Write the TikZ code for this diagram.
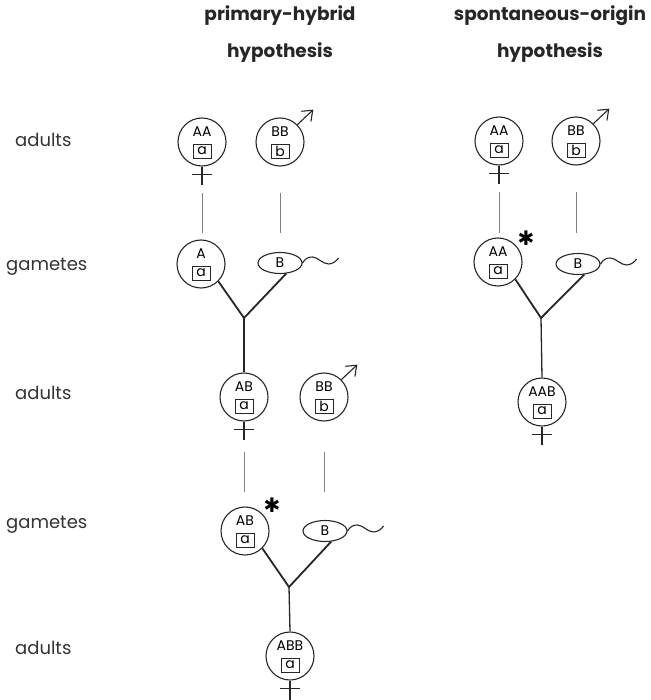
\documentclass[tikz,border=0pt]{standalone}
\usepackage{fontspec}
\setmainfont{Poppins}
\newfontfamily\symfont{DejaVu Sans}
\usetikzlibrary{shapes.geometric,arrows.meta,calc}
\begin{document}
\begin{tikzpicture}[x=1pt,y=-1pt,
  cell/.style={circle,draw=black!85,line width=1.1pt,minimum size=48pt,inner sep=0pt},
  sperm/.style={ellipse,draw=black!85,line width=1.1pt,minimum width=44pt,minimum height=21pt,inner sep=0pt,font=\fontsize{14}{14}\selectfont},
  geno/.style={inner sep=0pt,font=\fontsize{14}{14}\selectfont},
  chrom/.style={draw=black!85,line width=0.9pt,minimum width=18pt,minimum height=14pt,inner sep=0pt,font=\fontsize{14}{14}\selectfont},
  sym/.style={draw=black!85,line width=1.1pt},
  thin/.style={draw=black!50,line width=0.7pt},
  fuse/.style={draw=black!85,line width=1.8pt},
  rowlab/.style={anchor=west,inner sep=0pt,font=\fontsize{18}{18}\selectfont,text=black!80},
  title/.style={inner sep=0pt,font=\fontsize{18.5}{18.5}\selectfont\bfseries,text=black!85},
  star/.style={inner sep=0pt,font=\symfont\fontsize{20}{20}\selectfont},
  malearrow/.style={sym,-{Straight Barb[length=9pt,width=14pt,line width=1.1pt]}}
]
\useasboundingbox (0,0) rectangle (650,700);

% titles
\node[title] (t1a) at (280,16) {primary-hybrid};
\node[title] (t1b) at (280,53) {hypothesis};
\node[title] (t2a) at (550,16) {spontaneous-origin};
\node[title] (t2b) at (550,53) {hypothesis};

% row labels
\node[rowlab] (r1) at (15,140) {adults};
\node[rowlab] (r2) at (6,267) {gametes};
\node[rowlab] (r3) at (15,393) {adults};
\node[rowlab] (r4) at (6,525) {gametes};
\node[rowlab] (r5) at (15,648) {adults};

% ===== primary-hybrid column =====
% adults row 1
\node[cell] (pAA) at (202,142) {};
\node[geno] (pAAg) at (202,132) {AA};
\node[chrom] (pAAc) at (202,151) {a};
\draw[sym] (pAA.south) -- ++(0,18);
\draw[sym] ($(pAA.south)+(-10,8)$) -- ++(20,0);
\node[cell] (pBB) at (280,142) {};
\node[geno] (pBBg) at (280,132) {BB};
\node[chrom] (pBBc) at (280,151) {b};
\draw[malearrow] (pBB.45) -- ++(16,-15);

% gametes row 1
\node[cell] (pA) at (201,264) {};
\node[geno] (pAg) at (201,254) {A};
\node[chrom] (pAc) at (201,273) {a};
\node[sperm] (pB) at (280,263) {B};
\draw[sym] (pB.east) .. controls +(3,-5) and +(-4,0) .. ++(10,-6)
  .. controls +(5,0) and +(-6,0) .. ++(16,7)
  .. controls +(4,0) and +(-2,3) .. ++(10,-6);
\coordinate (pJ1) at (244,318);
\draw[thin] (202,193) coordinate (l1a) -- (202,233) coordinate (l1b);
\draw[thin] (280,193) coordinate (l2a) -- (280,233) coordinate (l2b);
\draw[fuse] (pA.-45) -- (pJ1) -- (pB.-60);

% adults row 2
\node[cell] (pAB) at (244,397) {};
\node[geno] (pABg) at (244,387) {AB};
\node[chrom] (pABc) at (244,406) {a};
\draw[sym] (pAB.south) -- ++(0,18);
\draw[sym] ($(pAB.south)+(-10,8)$) -- ++(20,0);
\draw[fuse,line width=1.3pt] (pJ1) -- (pAB.north);
\node[cell] (pBB2) at (324,397) {};
\node[geno] (pBB2g) at (324,387) {BB};
\node[chrom] (pBB2c) at (324,406) {b};
\draw[malearrow] (pBB2.45) -- ++(16,-15);

% gametes row 2
\node[cell] (pAB2) at (245,531) {};
\node[geno] (pAB2g) at (245,521) {AB};
\node[chrom] (pAB2c) at (245,540) {a};
\node[star] (pstar) at (272,505) {✱};
\node[sperm] (pB2) at (325,531) {B};
\draw[sym] (pB2.east) .. controls +(3,-5) and +(-4,0) .. ++(10,-6)
  .. controls +(5,0) and +(-6,0) .. ++(16,7)
  .. controls +(4,0) and +(-2,3) .. ++(10,-6);
\draw[thin] (244,452) coordinate (l3a) -- (244,492) coordinate (l3b);
\draw[thin] (324,452) coordinate (l4a) -- (324,492) coordinate (l4b);
\coordinate (pJ2) at (289,587);
\draw[fuse] (pAB2.-45) -- (pJ2) -- (pB2.-60);

% adults row 3
\node[cell] (pABB) at (290,656) {};
\node[geno] (pABBg) at (290,646) {ABB};
\node[chrom] (pABBc) at (290,665) {a};
\draw[sym] (pABB.south) -- ++(0,20);
\draw[sym] ($(pABB.south)+(-10,8)$) -- ++(20,0);
\draw[fuse,line width=1.3pt] (pJ2) -- (pABB.north);

% ===== spontaneous-origin column =====
\node[cell] (sAA) at (499,141) {};
\node[geno] (sAAg) at (499,131) {AA};
\node[chrom] (sAAc) at (499,150) {a};
\draw[sym] (sAA.south) -- ++(0,18);
\draw[sym] ($(sAA.south)+(-10,8)$) -- ++(20,0);
\node[cell] (sBB) at (576,141) {};
\node[geno] (sBBg) at (576,131) {BB};
\node[chrom] (sBBc) at (576,150) {b};
\draw[malearrow] (sBB.45) -- ++(16,-15);

\draw[thin] (499,192) coordinate (l5a) -- (499,233) coordinate (l5b);
\draw[thin] (576,192) coordinate (l6a) -- (576,233) coordinate (l6b);

\node[cell] (sAA2) at (498,262) {};
\node[geno] (sAA2g) at (498,252) {AA};
\node[chrom] (sAA2c) at (498,271) {a};
\node[star] (sstar) at (526,238) {✱};
\node[sperm] (sB) at (578,264) {B};
\draw[sym] (sB.east) .. controls +(3,-5) and +(-4,0) .. ++(10,-6)
  .. controls +(5,0) and +(-6,0) .. ++(16,7)
  .. controls +(4,0) and +(-2,3) .. ++(10,-6);
\coordinate (sJ) at (541,318);
\draw[fuse] (sAA2.-45) -- (sJ) -- (sB.-60);

\node[cell] (sAAB) at (542,402) {};
\node[geno] (sAABg) at (542,392) {AAB};
\node[chrom] (sAABc) at (542,411) {a};
\draw[sym] (sAAB.south) -- ++(0,18);
\draw[sym] ($(sAAB.south)+(-10,8)$) -- ++(20,0);
\draw[fuse,line width=1.3pt] (sJ) -- (sAAB.north);
\end{tikzpicture}
\end{document}
